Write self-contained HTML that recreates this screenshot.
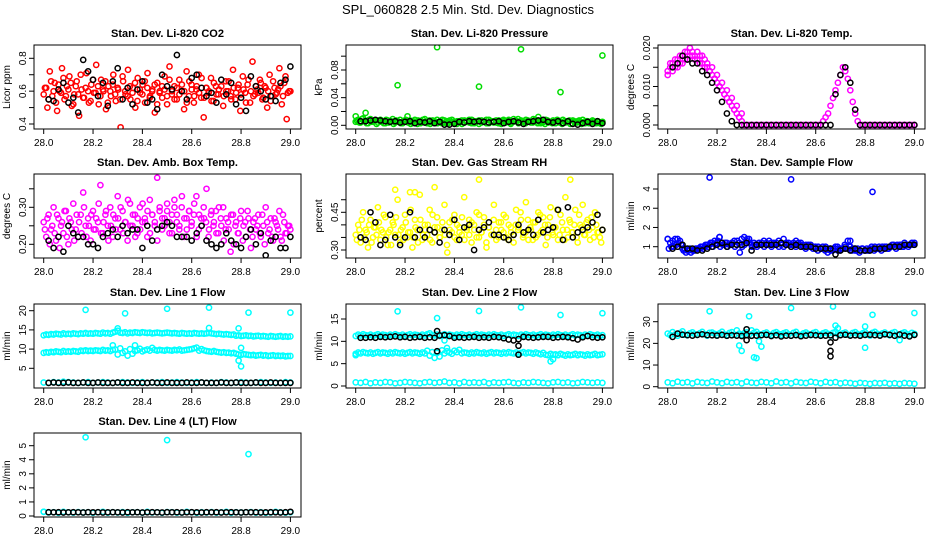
<!DOCTYPE html>
<html><head><meta charset="utf-8"><style>
body{margin:0;background:#fff;}
svg{display:block;font-family:"Liberation Sans",Arial,sans-serif;}
</style></head><body>
<svg id="chart" width="936" height="540" viewBox="0 0 936 540" xmlns="http://www.w3.org/2000/svg">
<rect width="936" height="540" fill="#fff"/>
<text x="468" y="14" font-size="13" text-anchor="middle">SPL_060828  2.5 Min. Std. Dev. Diagnostics</text>
</svg>
<script>
const xTicks=[28.0,28.2,28.4,28.6,28.8,29.0];
const co2A=[0.58,0.62,0.55,0.66,0.60,0.53,0.64,0.59,0.68,0.57,0.61,0.65,0.52,0.63,0.58,0.70,0.56,0.62,0.60,0.54,0.67,0.59,0.63,0.57,0.61,0.66,0.53,0.60,0.64,0.58,0.62,0.55,0.69,0.60,0.57,0.63,0.59,0.65,0.54,0.61,0.58,0.66,0.62,0.56,0.60,0.64,0.52,0.59,0.63,0.61,0.57,0.67,0.60,0.55,0.62,0.58,0.64,0.60,0.53,0.66,0.61,0.57,0.63,0.59,0.68,0.56,0.62,0.60,0.54,0.65,0.58,0.61,0.63,0.57,0.60,0.66,0.55,0.62,0.59,0.64,0.58,0.61,0.53,0.67,0.60,0.57,0.63,0.59,0.65,0.56,0.62,0.60,0.54,0.66,0.58,0.61,0.63,0.57,0.69,0.59,0.60];
const co2B=[0.62,0.50,0.72,0.57,0.65,0.48,0.60,0.74,0.55,0.63,0.69,0.51,0.58,0.66,0.45,0.61,0.56,0.71,0.53,0.64,0.59,0.76,0.52,0.67,0.60,0.49,0.63,0.57,0.70,0.54,0.61,0.38,0.66,0.58,0.73,0.55,0.62,0.50,0.68,0.59,0.64,0.53,0.71,0.57,0.61,0.47,0.65,0.60,0.56,0.69,0.52,0.75,0.58,0.63,0.55,0.67,0.60,0.49,0.72,0.57,0.64,0.53,0.61,0.70,0.56,0.44,0.62,0.59,0.68,0.54,0.63,0.58,0.90,0.51,0.66,0.60,0.57,0.73,0.55,0.62,0.48,0.69,0.59,0.64,0.53,0.78,0.58,0.61,0.67,0.55,0.63,0.50,0.70,0.57,0.62,0.59,0.74,0.52,0.65,0.43,0.60];
const co2Black=[0.55,0.54,0.61,0.65,0.53,0.56,0.47,0.79,0.72,0.67,0.57,0.65,0.51,0.66,0.74,0.55,0.62,0.52,0.61,0.66,0.53,0.55,0.49,0.70,0.63,0.61,0.82,0.60,0.55,0.68,0.70,0.62,0.57,0.59,0.53,0.67,0.58,0.65,0.52,0.56,0.48,0.69,0.63,0.60,0.55,0.57,0.54,0.65,0.67,0.75];
const presA=[0.005,0.008,0.004,0.010,0.006,0.003,0.009,0.005,0.007,0.004,0.008,0.006,0.003,0.007,0.005,0.009,0.004,0.006,0.008,0.003,0.006,0.005,0.007,0.004,0.008,0.002,0.006,0.005,0.009,0.003,0.007,0.004,0.006,0.008,0.005,0.003,0.007,0.006,0.004,0.008,0.005,0.002,0.006,0.007,0.004,0.005,0.008,0.003,0.006,0.005,0.007,0.004,0.006,0.003,0.008,0.005,0.006,0.004,0.007,0.002,0.006,0.005,0.008,0.004,0.009,0.006,0.003,0.007,0.005,0.008,0.006,0.004,0.009,0.005,0.007,0.003,0.006,0.008,0.004,0.005,0.007,0.003,0.006,0.005,0.008,0.004,0.006,0.002,0.007,0.005,0.006,0.004,0.008,0.003,0.006,0.005,0.007,0.004,0.006,0.003,0.005];
const presB=[0.007,0.004,0.009,0.006,0.003,0.008,0.005,0.006,0.002,0.007,0.005,0.003,0.008,0.004,0.006,0.002,0.007,0.005,0.003,0.006,0.008,0.004,0.002,0.006,0.005,0.007,0.003,0.008,0.004,0.006,0.002,0.007,0.005,0.003,0.006,0.008,0.004,0.002,0.007,0.005,0.003,0.006,0.004,0.002,0.007,0.006,0.004,0.008,0.003,0.006,0.002,0.007,0.005,0.008,0.003,0.006,0.004,0.007,0.003,0.005,0.008,0.004,0.006,0.002,0.005,0.007,0.009,0.004,0.006,0.003,0.007,0.005,0.004,0.008,0.003,0.006,0.004,0.002,0.007,0.005,0.003,0.006,0.008,0.004,0.002,0.006,0.005,0.007,0.003,0.006,0.004,0.007,0.002,0.005,0.006,0.003,0.004,0.006,0.003,0.005,0.002];
const presOutT=[28.0,28.04,28.17,28.21,28.33,28.5,28.67,28.74,28.83,29.0];
const presOutV=[0.013,0.018,0.058,0.013,0.113,0.056,0.110,0.012,0.048,0.101];
const presBlack=[0.006,0.006,0.007,0.008,0.007,0.006,0.005,0.006,0.004,0.005,0.006,0.003,0.005,0.004,0.006,0.003,0.005,0.001,0.001,0.002,0.005,0.004,0.006,0.005,0.006,0.005,0.004,0.005,0.006,0.003,0.005,0.006,0.004,0.002,0.005,0.006,0.007,0.008,0.005,0.004,0.006,0.003,0.006,0.002,0.001,0.003,0.005,0.002,0.006,0.003];
const tempA=[0.014,0.015,0.016,0.015,0.017,0.016,0.018,0.017,0.019,0.018,0.019,0.018,0.017,0.018,0.016,0.017,0.015,0.014,0.013,0.012,0.011,0.010,0.009,0.008,0.007,0.006,0.005,0.004,0.003,0.002,0.001,
0,0,0,0,0,0,0,0,0,0,0,0,0,0,0,0,0,0,0,0,0,0,0,0,0,0,0,0,0,0,0,
0.000,0.001,0.002,0.003,0.005,0.007,0.009,0.011,0.013,0.015,0.014,0.012,0.009,0.006,0.003,0.001,0.000,
0,0,0,0,0,0,0,0,0,0,0,0,0,0,0,0,0,0,0,0,0,0];
const tempEarly=[0.013,0.016,0.014,0.017,0.015,0.018,0.016,0.019,0.017,0.020,0.018,0.017,0.019,0.016,0.018,0.015,0.016,0.014,0.015,0.012,0.013,0.010,0.011,0.008,0.009,0.006,0.007,0.004,0.005,0.002,0.003];
const tempBlack=[0.015,0.016,0.018,0.017,0.016,0.016,0.014,0.013,0.011,0.009,0.006,0.003,0.001,
0,0,0,0,0,0,0,0,0,0,0,0,0,0,0,0,0,0,0,0,
0.008,0.013,0.015,0.011,0.004,
0,0,0,0,0,0,0,0,0,0,0,0];
const ambA=[0.26,0.22,0.28,0.24,0.30,0.21,0.27,0.25,0.23,0.29,0.20,0.26,0.31,0.24,0.22,0.28,0.34,0.25,0.27,0.21,0.29,0.24,0.26,0.36,0.23,0.28,0.25,0.30,0.22,0.27,0.33,0.24,0.29,0.26,0.21,0.31,0.25,0.28,0.23,0.30,0.26,0.27,0.22,0.32,0.28,0.25,0.38,0.29,0.24,0.27,0.31,0.26,0.23,0.30,0.28,0.25,0.33,0.27,0.24,0.29,0.26,0.31,0.22,0.28,0.25,0.27,0.35,0.24,0.29,0.26,0.23,0.30,0.25,0.21,0.27,0.24,0.28,0.20,0.26,0.23,0.29,0.25,0.22,0.27,0.19,0.26,0.24,0.28,0.22,0.25,0.30,0.23,0.27,0.21,0.26,0.24,0.22,0.28,0.23,0.25,0.24];
const ambB=[0.24,0.27,0.20,0.25,0.23,0.28,0.19,0.26,0.29,0.22,0.27,0.24,0.21,0.28,0.26,0.23,0.30,0.22,0.25,0.28,0.24,0.27,0.31,0.23,0.26,0.29,0.21,0.25,0.28,0.24,0.27,0.30,0.23,0.26,0.32,0.25,0.28,0.22,0.27,0.24,0.31,0.26,0.29,0.23,0.28,0.26,0.21,0.30,0.27,0.25,0.29,0.23,0.28,0.32,0.26,0.24,0.30,0.22,0.27,0.29,0.25,0.28,0.33,0.24,0.27,0.30,0.26,0.22,0.28,0.25,0.29,0.23,0.27,0.30,0.24,0.26,0.18,0.28,0.25,0.23,0.27,0.21,0.26,0.29,0.24,0.22,0.27,0.25,0.23,0.28,0.20,0.26,0.24,0.22,0.27,0.25,0.29,0.21,0.26,0.23,0.25];
const ambBlack=[0.21,0.19,0.22,0.18,0.25,0.23,0.22,0.22,0.20,0.20,0.19,0.22,0.23,0.24,0.22,0.25,0.23,0.24,0.24,0.19,0.25,0.21,0.24,0.25,0.26,0.25,0.22,0.22,0.22,0.21,0.23,0.25,0.21,0.20,0.19,0.20,0.23,0.21,0.20,0.19,0.22,0.24,0.20,0.23,0.17,0.21,0.22,0.19,0.19,0.22];
const rhA=[0.36,0.40,0.33,0.45,0.38,0.31,0.42,0.35,0.39,0.47,0.34,0.37,0.43,0.32,0.38,0.41,0.36,0.50,0.33,0.39,0.44,0.35,0.37,0.31,0.42,0.38,0.52,0.34,0.40,0.36,0.46,0.33,0.39,0.43,0.35,0.38,0.48,0.32,0.41,0.37,0.44,0.34,0.39,0.36,0.51,0.38,0.42,0.33,0.40,0.45,0.35,0.37,0.43,0.31,0.39,0.36,0.48,0.34,0.41,0.38,0.44,0.35,0.40,0.37,0.33,0.46,0.39,0.42,0.36,0.49,0.34,0.38,0.41,0.35,0.45,0.37,0.43,0.32,0.40,0.47,0.36,0.39,0.34,0.44,0.38,0.51,0.35,0.41,0.37,0.46,0.33,0.40,0.48,0.36,0.42,0.34,0.39,0.45,0.37,0.35,0.38];
const rhB=[0.34,0.38,0.42,0.35,0.37,0.40,0.33,0.39,0.36,0.41,0.38,0.44,0.35,0.37,0.32,0.40,0.43,0.36,0.38,0.34,0.41,0.37,0.46,0.35,0.39,0.33,0.42,0.36,0.38,0.40,0.34,0.44,0.37,0.39,0.35,0.41,0.36,0.29,0.38,0.42,0.35,0.40,0.37,0.43,0.34,0.39,0.36,0.41,0.38,0.35,0.44,0.37,0.40,0.33,0.39,0.36,0.42,0.38,0.35,0.41,0.37,0.43,0.34,0.39,0.36,0.40,0.38,0.45,0.35,0.37,0.42,0.39,0.34,0.41,0.36,0.44,0.38,0.40,0.35,0.43,0.37,0.39,0.46,0.36,0.41,0.34,0.38,0.42,0.37,0.40,0.35,0.44,0.39,0.36,0.41,0.38,0.43,0.35,0.40,0.37,0.33];
const rhOutT=[28.16,28.22,28.24,28.32,28.5,28.87];
const rhOutV=[0.54,0.53,0.53,0.55,0.58,0.58];
const rhBlack=[0.35,0.34,0.45,0.41,0.32,0.34,0.44,0.35,0.32,0.35,0.45,0.35,0.38,0.35,0.38,0.37,0.33,0.38,0.36,0.42,0.34,0.39,0.40,0.30,0.38,0.39,0.41,0.36,0.36,0.35,0.34,0.36,0.40,0.37,0.38,0.36,0.42,0.37,0.38,0.39,0.46,0.34,0.47,0.35,0.37,0.38,0.39,0.41,0.44,0.38];
const flowA=[1.4,1.2,1.3,1.4,1.4,1.3,0.9,0.9,0.8,0.9,0.8,0.8,0.9,0.9,1.0,1.0,1.1,1.1,1.2,1.3,1.2,1.5,1.2,1.1,1.2,1.1,1.2,1.3,1.1,1.2,1.4,1.5,1.3,1.4,1.1,1.2,1.1,1.2,1.1,1.3,1.2,1.1,1.2,1.2,1.1,1.3,1.2,1.4,1.1,1.2,1.1,1.2,1.3,1.1,1.2,1.0,1.1,1.1,1.0,1.0,0.9,1.0,0.9,0.9,1.0,0.9,0.8,0.9,1.0,0.8,0.9,0.9,1.0,1.3,1.0,0.9,0.8,0.9,0.8,0.9,0.8,0.8,0.9,0.9,1.0,0.9,0.9,1.0,1.0,0.9,1.0,1.1,1.0,1.1,1.1,1.0,1.2,1.1,1.1,1.2,1.2];
const flowB=[0.9,1.0,1.0,1.1,1.2,1.1,0.8,0.7,0.8,0.7,0.8,0.9,0.9,1.0,0.9,1.1,1.0,1.2,1.0,1.1,1.3,1.0,1.1,1.2,1.0,1.1,1.2,1.0,1.3,0.7,1.0,1.1,1.4,1.2,1.0,1.1,1.0,1.1,1.2,1.0,1.1,1.3,1.0,1.1,1.2,1.0,1.1,1.0,1.2,1.1,1.0,1.1,1.0,1.2,1.1,1.0,0.9,1.0,1.1,0.9,1.0,0.8,0.9,1.0,0.8,0.7,0.9,0.8,0.9,1.0,0.8,0.9,1.1,0.9,1.0,0.8,0.9,0.8,0.7,0.9,0.8,0.9,0.8,1.0,0.8,0.9,1.0,0.8,0.9,1.0,0.9,1.0,1.1,0.9,1.0,1.1,1.0,1.1,1.0,1.1,1.1];
const flowOutT=[28.0,28.17,28.21,28.5,28.74,28.83];
const flowOutV=[1.4,4.6,1.5,4.5,1.3,3.85];
const flowBlack=[0.9,1.0,1.1,0.9,0.9,0.8,0.8,0.9,1.0,1.1,1.2,1.0,1.1,1.1,1.1,1.2,0.8,1.1,1.1,1.1,1.1,1.1,1.2,1.1,1.0,1.1,1.0,1.0,1.0,0.9,0.9,0.9,0.9,0.6,0.8,0.9,0.8,0.9,0.8,0.8,0.8,0.9,0.9,0.9,1.0,1.0,1.0,1.1,1.1,1.1];
const l1Top=[13.6,13.8,13.7,13.9,13.8,14.0,13.9,13.8,14.1,13.9,14.0,13.9,14.1,14.0,13.9,14.1,14.0,14.2,14.0,14.1,14.0,14.2,14.1,14.0,14.3,14.1,14.2,14.0,14.3,14.5,14.8,14.3,14.2,14.4,14.1,14.3,14.2,14.4,14.3,14.2,14.4,14.3,14.2,14.3,14.1,14.2,14.3,14.2,14.1,14.2,14.3,14.2,14.1,14.2,14.1,14.0,14.2,14.1,14.0,14.1,14.0,14.2,14.1,14.0,14.1,14.0,14.1,14.2,14.1,14.0,13.9,14.0,13.9,13.8,13.9,13.8,13.7,13.8,13.5,13.6,13.4,13.5,13.6,13.4,13.5,13.3,13.4,13.5,13.3,13.4,13.3,13.2,13.4,13.3,13.2,13.3,13.4,13.2,13.3,13.2,13.3];
const l1Mid=[9.0,9.2,9.1,9.3,9.2,9.4,9.3,9.2,9.5,9.3,9.4,9.3,9.5,9.4,9.3,9.6,9.5,9.7,9.5,9.6,9.5,9.7,9.6,9.5,9.8,9.6,9.7,9.5,9.8,9.9,8.6,10.2,9.0,9.4,8.3,10.0,8.8,9.5,9.7,10.1,9.4,9.7,9.9,9.6,10.3,9.8,9.6,9.8,9.7,9.6,9.8,9.7,9.6,9.8,9.7,9.9,9.6,9.7,9.8,9.9,10.0,10.2,10.4,9.6,10.0,9.7,9.5,9.4,9.3,9.5,9.3,9.2,9.1,9.2,9.0,9.1,8.9,9.0,8.8,8.6,8.5,8.7,8.6,8.5,8.4,8.5,8.3,8.4,8.5,8.3,8.4,8.2,8.3,8.4,8.2,8.3,8.2,8.3,8.1,8.2,8.2];
const l1Low=[1.3,1.2,1.4,1.3,1.5,1.4,1.3,1.2,1.3,1.4,1.2,1.3,1.4,1.3,1.2,1.3,1.4,1.3,1.2,1.3,1.4,1.2,1.3,1.3,1.4,1.2,1.3,1.4,1.3,1.2,1.3,1.4,1.3,1.2,1.3,1.2,1.4,1.3,1.2,1.3,1.4,1.3,1.2,1.3,1.4,1.3,1.2,1.3,1.2,1.4,1.3];
const l1OutT=[28.17,28.33,28.5,28.67,28.83,29.0,28.3,28.67,28.79,28.28,28.37,28.8,28.79,28.8];
const l1OutV=[20.2,19.3,20.5,20.8,19.5,19.5,15.4,15.5,15.4,11.0,11.0,10.3,7.0,5.5];
const l1Black=[1.2,1.3,1.2,1.2,1.3,1.2,1.2,1.3,1.2,1.2,1.3,1.2,1.2,1.2,1.3,1.2,1.2,1.3,1.2,1.2,1.2,1.3,1.2,1.2,1.3,1.2,1.2,1.2,1.3,1.2,1.2,1.3,1.2,1.2,1.2,1.3,1.2,1.2,1.3,1.2,1.2,1.2,1.3,1.2,1.2,1.3,1.2,1.2,1.2,1.2];
const l2Top=[11.2,11.5,11.3,11.6,11.4,11.3,11.5,11.2,11.4,11.6,11.3,11.5,11.4,11.2,11.5,11.3,11.6,11.4,11.3,11.5,11.2,11.4,11.6,11.3,11.5,11.4,11.2,11.5,11.3,11.6,11.8,11.4,11.3,11.5,11.2,11.4,11.6,11.3,11.5,11.4,11.2,11.5,11.3,11.6,11.4,11.3,11.5,11.2,11.4,11.6,11.3,11.5,11.4,11.2,11.5,11.3,11.6,11.4,11.3,11.5,11.2,11.4,11.6,11.3,11.5,11.4,11.2,11.5,11.3,11.6,11.4,11.3,11.5,11.2,11.4,11.6,11.3,11.5,11.4,11.2,11.5,11.3,11.6,11.4,11.3,11.5,11.2,11.4,11.6,11.3,11.5,11.4,11.2,11.5,11.3,11.6,11.4,11.3,11.5,11.2,11.4];
const l2Mid=[7.2,7.5,7.3,7.6,7.4,7.3,7.5,7.2,7.4,7.6,7.3,7.5,7.4,7.2,7.5,7.3,7.6,7.4,7.3,7.5,7.2,7.4,7.6,7.3,7.5,7.4,7.2,7.5,7.3,7.9,6.8,7.6,6.3,7.4,6.6,8.0,7.3,7.8,7.5,7.2,7.9,7.6,8.1,7.3,7.5,7.4,7.2,7.5,7.3,7.6,7.4,7.3,7.5,7.2,7.4,7.6,7.3,7.5,7.4,7.2,7.5,7.3,7.6,7.4,7.3,7.5,7.2,7.4,7.6,7.3,7.5,7.4,7.2,7.5,7.3,7.1,7.4,7.0,6.9,7.2,7.0,7.1,6.9,7.2,7.0,6.8,7.1,6.9,7.0,7.2,6.9,7.1,7.0,6.8,7.1,6.9,7.0,7.2,6.9,7.0,7.1];
const l2Low=[0.8,0.7,0.9,0.6,0.8,0.7,0.9,0.8,0.6,0.7,0.9,0.8,0.7,0.6,0.8,0.9,0.7,0.8,1.0,0.7,0.8,0.6,0.9,0.7,0.8,0.7,0.9,0.6,0.8,0.7,0.8,0.9,0.7,0.6,0.8,0.7,0.9,0.8,0.7,0.6,0.8,0.9,0.7,0.8,0.6,0.7,0.9,0.8,0.7,0.8,0.7];
const l2OutT=[28.17,28.33,28.5,28.67,28.83,29.0,28.0,28.37,28.79,28.8,28.36];
const l2OutV=[16.7,15.2,16.8,17.6,15.9,16.3,6.9,8.5,5.5,6.0,10.2];
const l2Black=[10.8,10.8,10.9,10.8,11.0,10.9,11.0,11.1,10.9,11.0,10.8,10.9,11.0,10.8,10.9,10.8,11.3,11.4,11.2,10.8,10.9,10.8,10.9,11.0,10.8,10.9,10.8,11.0,10.9,10.7,10.4,10.2,10.5,11.0,10.9,10.8,10.9,11.0,11.0,10.8,10.9,11.0,10.9,10.7,10.4,10.9,11.2,10.9,10.8,10.9];
const l2BlkOutT=[28.33,28.33,28.66,28.66];
const l2BlkOutV=[12.3,7.8,9.0,7.0];
const l3Top=[24.5,23.8,25.2,24.1,23.5,24.8,25.5,24.0,23.7,24.6,25.1,24.3,23.9,24.7,25.3,24.2,23.6,24.9,25.0,24.4,23.8,24.6,25.4,24.1,23.7,24.8,25.2,24.0,26.0,24.5,23.9,24.7,25.1,24.2,23.6,24.9,25.3,24.3,23.8,24.6,25.0,24.1,23.7,24.8,25.2,24.4,23.9,24.7,25.1,24.2,23.6,24.9,25.3,24.0,23.8,24.6,25.0,24.3,23.7,24.8,25.2,24.1,23.9,24.7,25.1,24.4,23.6,24.9,25.3,24.2,23.8,24.6,25.0,24.0,23.7,24.8,25.2,24.3,23.9,24.7,25.1,24.1,23.6,24.9,25.3,24.4,23.8,24.6,25.0,24.2,23.7,24.8,25.2,24.0,23.9,24.7,25.1,24.3,23.6,24.9,24.4];
const l3Low=[2.0,1.6,2.3,1.8,2.1,1.5,2.2,1.9,1.7,2.4,2.0,1.6,2.2,1.8,2.1,1.5,2.3,1.9,1.7,2.2,2.0,1.6,2.4,1.8,2.1,1.5,2.2,1.9,1.7,2.3,2.0,1.6,2.2,1.8,2.1,1.5,1.9,1.7,1.4,1.8,1.6,1.3,1.7,1.5,1.8,1.4,1.6,1.3,1.7,1.5,1.4];
const l3OutT=[28.17,28.33,28.5,28.67,28.83,29.0,28.29,28.3,28.35,28.36,28.37,28.38,28.68,28.69,28.8,28.8,28.94,28.34];
const l3OutV=[34.8,32.5,36.3,37.0,33.2,34.0,19.0,16.5,13.5,13.2,21.0,18.5,28.2,27.0,27.8,18.0,21.5,26.0];
const l3Black=[23.0,24.5,24.0,23.8,23.6,23.9,24.2,23.8,23.7,23.6,23.9,23.5,23.7,23.6,23.4,23.8,23.5,23.6,23.8,23.9,23.4,23.7,23.2,23.6,23.5,23.8,23.3,23.6,23.9,23.7,23.5,23.6,23.7,22.6,23.8,24.0,23.6,23.7,23.5,23.9,24.0,23.8,23.6,24.2,23.9,23.5,24.1,23.6,23.2,23.9];
const l3BlkOutT=[28.32,28.32,28.66,28.66,28.66];
const l3BlkOutV=[26.5,21.5,20.5,16.5,14.0];
const l4Band=[0.30,0.25,0.27,0.23,0.29,0.26,0.24,0.28,0.25,0.27,0.23,0.26,0.29,0.24,0.27,0.25,0.28,0.23,0.26,0.27,0.24,0.29,0.25,0.26,0.23,0.28,0.27,0.24,0.25,0.29,0.26,0.23,0.27,0.25,0.28,0.24,0.26,0.29,0.23,0.27,0.25,0.26,0.28,0.24,0.27,0.23,0.25,0.29,0.26,0.24,0.27];
const l4OutT=[28.0,28.17,28.5,28.83];
const l4OutV=[0.3,5.6,5.4,4.4];
const l4Black=[0.27,0.26,0.27,0.25,0.26,0.27,0.26,0.25,0.27,0.26,0.27,0.25,0.26,0.27,0.26,0.25,0.27,0.26,0.27,0.25,0.26,0.27,0.26,0.25,0.27,0.26,0.27,0.25,0.26,0.27,0.26,0.25,0.27,0.26,0.27,0.25,0.26,0.27,0.26,0.25,0.27,0.26,0.27,0.25,0.26,0.27,0.26,0.25,0.27,0.30];
const blackStart=28.02, blackEnd=29.0;

const NS='http://www.w3.org/2000/svg';
const svg=document.getElementById('chart');
function mk(tag,attrs,parent){const e=document.createElementNS(NS,tag);for(const k in attrs)e.setAttribute(k,attrs[k]);(parent||svg).appendChild(e);return e;}
const colL=[34,346,658], rowT=[45,174,304,433], W=267, H=84;
function even(vals,t0,t1,color){return {vals:vals,t0:t0,t1:t1,color:color};}
function pts(ts,vals,color){return {ts:ts,vals:vals,color:color};}
const panels=[
 {id:'co2',title:'Stan. Dev. Li-820 CO2',yl:'Licor ppm',c:0,r:0,ref:[0.4,124,0.8,58.3],ticks:[0.4,0.5,0.6,0.7,0.8],labs:[0.4,0.6,0.8],dec:1,
  series:[even(co2A,28,29,'#ff0000'),even(co2B,28.005,28.995,'#ff0000'),even(co2Black,blackStart,blackEnd,'#000')]},
 {id:'pressure',title:'Stan. Dev. Li-820 Pressure',yl:'kPa',c:1,r:0,ref:[0,125.3,0.08,70],ticks:[0,0.02,0.04,0.06,0.08,0.10],labs:[0,0.04,0.08],dec:2,
  series:[even(presA,28,29,'#00dd00'),even(presB,28.005,28.995,'#00dd00'),pts(presOutT,presOutV,'#00dd00'),even(presBlack,blackStart,blackEnd,'#000')]},
 {id:'temp',title:'Stan. Dev. Li-820 Temp.',yl:'degrees C',c:2,r:0,ref:[0,125,0.02,48],ticks:[0,0.005,0.01,0.015,0.02],labs:[0,0.01,0.02],dec:3,
  series:[even(tempA,28,29,'#ff00ff'),even(tempEarly,28.0,28.3,'#ff00ff'),even(tempBlack,blackStart,blackEnd,'#000')]},
 {id:'ambtemp',title:'Stan. Dev. Amb. Box Temp.',yl:'degrees C',c:0,r:1,ref:[0.2,244.3,0.3,207.3],ticks:[0.2,0.25,0.3,0.35],labs:[0.2,0.3],dec:2,
  series:[even(ambA,28,29,'#ff00ff'),even(ambB,28.005,28.995,'#ff00ff'),even(ambBlack,blackStart,blackEnd,'#000')]},
 {id:'rh',title:'Stan. Dev. Gas Stream RH',yl:'percent',c:1,r:1,ref:[0.3,250,0.45,212.3],ticks:[0.3,0.35,0.4,0.45,0.5],labs:[0.3,0.45],dec:2,
  series:[even(rhA,28,29,'#ffff00'),even(rhB,28.005,28.995,'#ffff00'),pts(rhOutT,rhOutV,'#ffff00'),even(rhBlack,blackStart,blackEnd,'#000')]},
 {id:'sampleflow',title:'Stan. Dev. Sample Flow',yl:'ml/min',c:2,r:1,ref:[1,246.7,4,189],ticks:[1,2,3,4],labs:[1,2,3,4],dec:0,
  series:[even(flowA,28,29,'#0000ff'),even(flowB,28.005,28.995,'#0000ff'),pts(flowOutT,flowOutV,'#0000ff'),even(flowBlack,blackStart,blackEnd,'#000')]},
 {id:'line1',title:'Stan. Dev. Line 1 Flow',yl:'ml/min',c:0,r:2,ref:[5,368.3,20,310.7],ticks:[5,10,15,20],labs:[5,10,15,20],dec:0,
  series:[even(l1Top,28,29,'#00ffff'),even(l1Mid,28,29,'#00ffff'),even(l1Low,28,29,'#00ffff'),pts(l1OutT,l1OutV,'#00ffff'),even(l1Black,blackStart,blackEnd,'#000')]},
 {id:'line2',title:'Stan. Dev. Line 2 Flow',yl:'ml/min',c:1,r:2,ref:[0,386,15,319],ticks:[0,5,10,15],labs:[0,5,10,15],dec:0,
  series:[even(l2Top,28,29,'#00ffff'),even(l2Mid,28,29,'#00ffff'),even(l2Low,28,29,'#00ffff'),pts(l2OutT,l2OutV,'#00ffff'),even(l2Black,blackStart,blackEnd,'#000'),pts(l2BlkOutT,l2BlkOutV,'#000')]},
 {id:'line3',title:'Stan. Dev. Line 3 Flow',yl:'ml/min',c:2,r:2,ref:[0,386.7,30,321.7],ticks:[0,10,20,30],labs:[0,10,20,30],dec:0,
  series:[even(l3Top,28,29,'#00ffff'),even(l3Low,28,29,'#00ffff'),pts(l3OutT,l3OutV,'#00ffff'),even(l3Black,blackStart,blackEnd,'#000'),pts(l3BlkOutT,l3BlkOutV,'#000')]},
 {id:'line4',title:'Stan. Dev. Line 4 (LT) Flow',yl:'ml/min',c:0,r:3,ref:[0,516,5,445.7],ticks:[0,1,2,3,4,5],labs:[0,1,2,3,4,5],dec:0,
  series:[even(l4Band,28,29,'#00ffff'),pts(l4OutT,l4OutV,'#00ffff'),even(l4Black,blackStart,blackEnd,'#000')]}
];
panels.forEach(p=>{
  const L=colL[p.c], T=rowT[p.r], B=T+H;
  const g=mk('g',{});
  
  
  const xs=t=>L+9.7+(t-28)*246.7;
  const ys=v=>p.ref[1]+(v-p.ref[0])*(p.ref[3]-p.ref[1])/(p.ref[2]-p.ref[0]);
  const clip='clip-'+p.id;
  const cp=mk('clipPath',{id:clip},g); mk('rect',{x:L,y:T,width:W,height:H},cp);
  const title=mk('text',{x:L+W/2,y:T-8,'font-size':11,'font-weight':'bold','text-anchor':'middle'},g);
  title.textContent=p.title;
  
  
  const yl=mk('text',{x:0,y:0,'font-size':10,'text-anchor':'middle',transform:`translate(${L-24},${T+H/2}) rotate(-90)`},g);
  yl.textContent=p.yl;
  
  
  const marks=mk('g',{'clip-path':`url(#${clip})`,fill:'none','stroke-width':1.5},g);
  p.series.forEach(s=>{
    s.vals.forEach((v,i)=>{
      const t=s.ts?s.ts[i]:(s.vals.length>1?s.t0+i*(s.t1-s.t0)/(s.vals.length-1):s.t0);
      const c=mk('circle',{cx:xs(t).toFixed(1),cy:ys(v).toFixed(1),r:2.6,stroke:s.color},marks);
      
      
    });
  });
  const box=mk('rect',{x:L,y:T,width:W,height:H,fill:'none',stroke:'#000','stroke-width':1},g);
  
  
  const xa=mk('g',{},g);
  
  
  mk('line',{x1:xs(xTicks[0]),x2:xs(xTicks[xTicks.length-1]),y1:B,y2:B,stroke:'#000'},xa);
  xTicks.forEach(t=>{
    mk('line',{x1:xs(t),x2:xs(t),y1:B,y2:B+5,stroke:'#000'},xa);
    const tx=mk('text',{x:xs(t),y:B+17,'font-size':10,'text-anchor':'middle'},xa);
    tx.textContent=t.toFixed(1);
    
    
  });
  const ya=mk('g',{},g);
  
  
  mk('line',{x1:L,x2:L,y1:ys(p.ticks[0]),y2:ys(p.ticks[p.ticks.length-1]),stroke:'#000'},ya);
  p.ticks.forEach(v=>{mk('line',{x1:L-5,x2:L,y1:ys(v),y2:ys(v),stroke:'#000'},ya);});
  p.labs.forEach(v=>{
    const tx=mk('text',{x:0,y:0,'font-size':10,'text-anchor':'middle',transform:`translate(${L-8},${ys(v)}) rotate(-90)`},ya);
    tx.textContent=v.toFixed(p.dec);
    
    
  });
});
</script>
</body></html>
